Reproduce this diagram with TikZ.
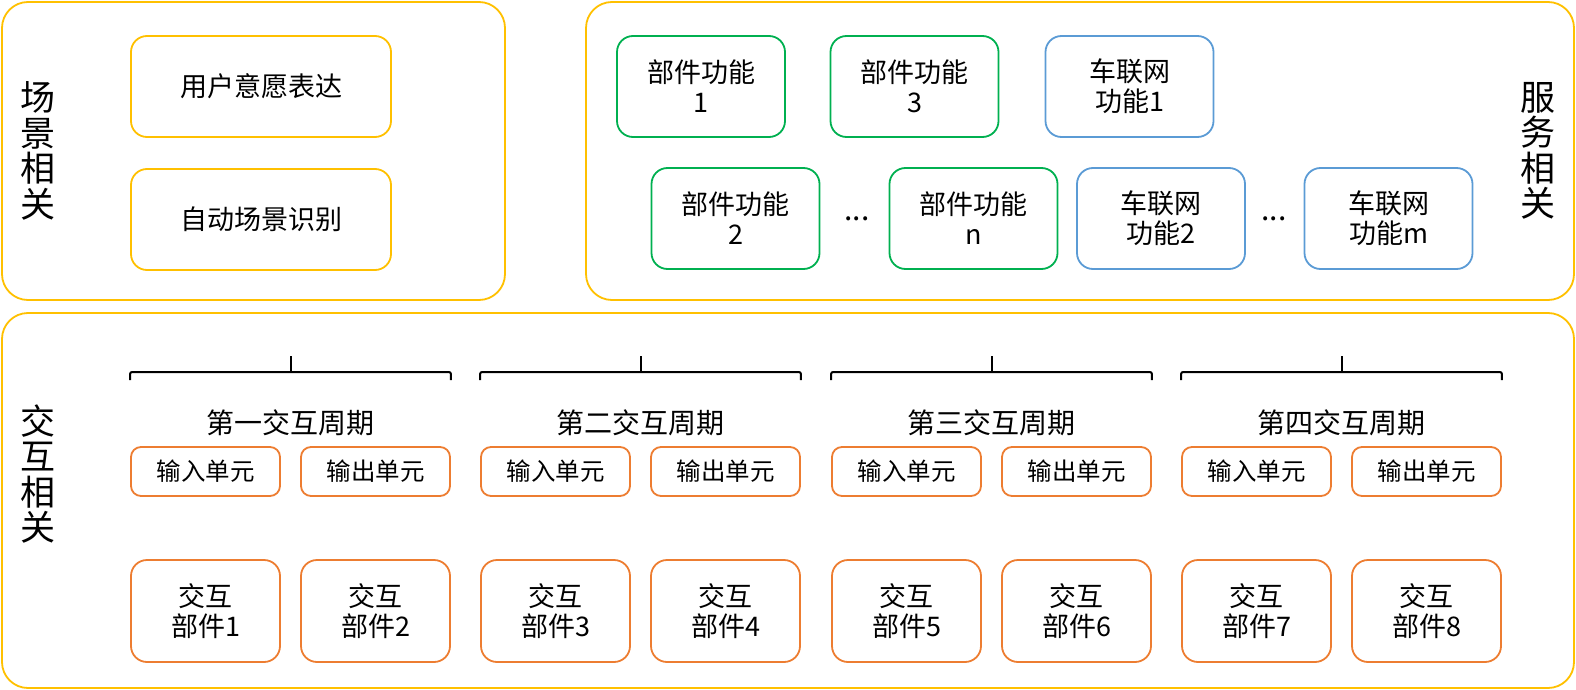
\documentclass[tikz,border=0pt]{standalone}
\usepackage{fontspec}
\setmainfont{Noto Sans CJK SC}
\usepackage{xcolor}
\usepackage{tikz}
\usetikzlibrary{positioning}
\definecolor{frameyellow}{HTML}{FFC000}
\definecolor{funcgreen}{HTML}{00B050}
\definecolor{netblue}{HTML}{5B9BD5}
\definecolor{partorange}{HTML}{ED7D31}

\begin{document}
\begin{tikzpicture}[x=1pt, y=-1pt,
  every node/.style={inner sep=0pt, align=center},
  groupframe/.style={draw=frameyellow, line width=1.8pt, rounded corners=26pt},
  scenebox/.style={draw=frameyellow, line width=1.8pt, rounded corners=16pt,
    minimum width=260pt, minimum height=101pt, font=\fontsize{27}{30}\selectfont},
  funcbox/.style={draw=funcgreen, line width=1.8pt, rounded corners=16pt,
    minimum width=168pt, minimum height=101pt, font=\fontsize{27}{30}\selectfont},
  netbox/.style={funcbox, draw=netblue},
  unitbox/.style={draw=partorange, line width=1.8pt, rounded corners=10pt,
    minimum width=149pt, minimum height=49pt, font=\fontsize{24.5}{28}\selectfont},
  partbox/.style={unitbox, rounded corners=16pt, minimum height=102pt,
    font=\fontsize{27}{30}\selectfont},
  sidelabel/.style={font=\fontsize{35}{35.5}\selectfont},
  bracket/.style={line width=2pt}]
\useasboundingbox (0,0) rectangle (1576,690);
% outer frames
\draw[groupframe] (2,2) rectangle (505,300);
\draw[groupframe] (586,2) rectangle (1574,300);
\draw[groupframe] (2,313) rectangle (1574,688);
\node[sidelabel] (scenelabel) at (38,151) {场\\景\\相\\关};
\node[sidelabel] (servicelabel) at (1538,151) {服\\务\\相\\关};
\node[sidelabel] (interlabel) at (38,474) {交\\互\\相\\关};
% scene related
\node[scenebox] (intent) at (261,86.5) {用户意愿表达};
\node[scenebox] (autoscene) at (261,219.5) {自动场景识别};
% service related
\foreach \name/\x/\y/\txt in {f1/701/86.5/1,f3/914.5/86.5/3,f2/735.5/218.5/2,fn/973.5/218.5/n} {
  \node[funcbox] (\name) at (\x,\y) {部件功能\\\txt};
}
\foreach \name/\x/\y/\txt in {v1/1129.5/86.5/1,v2/1161/218.5/2,vm/1388.5/218.5/m} {
  \node[netbox] (\name) at (\x,\y) {车联网\\功能\txt};
}
\node[anchor=base, font=\fontsize{30}{30}\selectfont] (dotsf) at (857,220) {...};
\node[anchor=base, font=\fontsize{30}{30}\selectfont] (dotsv) at (1274,220) {...};
% interaction cycles
\foreach \g/\x/\ordch in {1/131/一,2/481/二,3/832/三,4/1182/四} {
  \pgfmathtruncatemacro{\partA}{2*\g-1}
  \pgfmathtruncatemacro{\partB}{2*\g}
  \node[unitbox] (in\g) at (\x+74.5,471.5) {输入单元};
  \node[unitbox] (out\g) at (\x+244.5,471.5) {输出单元};
  \node[partbox] (part\partA) at (\x+74.5,611) {交互\\部件\partA};
  \node[partbox] (part\partB) at (\x+244.5,611) {交互\\部件\partB};
  \node[font=\fontsize{28}{30}\selectfont] (cycle\g) at (\x+159.5,423) {第\ordch 交互周期};
  \draw[bracket, rounded corners=2pt] (in\g.west |- 0,380) -- (in\g.west |- 0,372)
    -- (out\g.east |- 0,372) -- (out\g.east |- 0,380);
  \draw[bracket] (cycle\g.center |- 0,372) -- (cycle\g.center |- 0,356);
}
\end{tikzpicture}
\end{document}
